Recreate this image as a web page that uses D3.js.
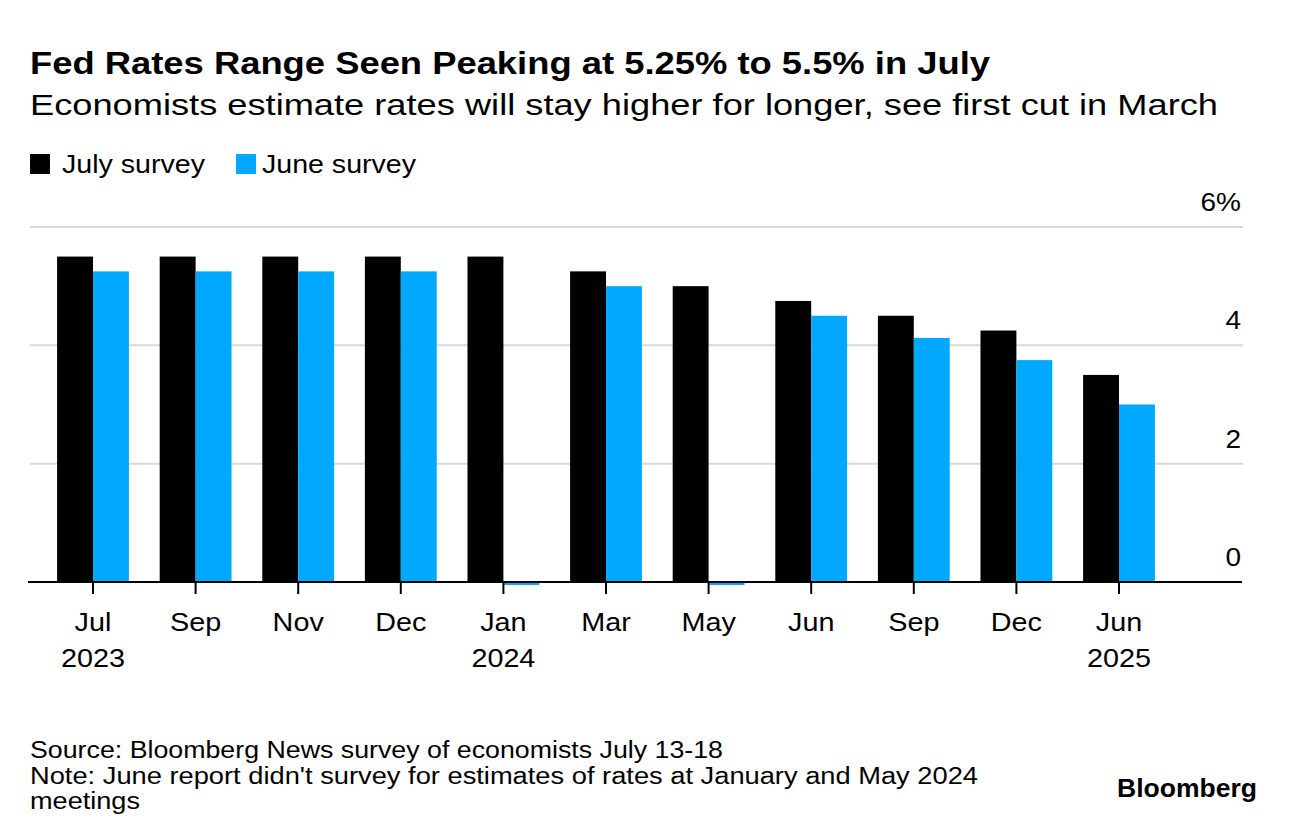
<!DOCTYPE html>
<html>
<head>
<meta charset="utf-8">
<script src="https://cdn.jsdelivr.net/npm/d3@7"></script>
<style>
  body { margin: 0; background: #fff; }
  svg { display: block; font-family: "Liberation Sans", Arial, sans-serif; }
</style>
</head>
<body>
<svg id="chart" width="1296" height="832"></svg>
<script>
const months = ["Jul", "Sep", "Nov", "Dec", "Jan", "Mar", "May", "Jun", "Sep", "Dec", "Jun"];
const years = ["2023", "", "", "", "2024", "", "", "", "", "", "2025"];
const julySurvey = [5.5, 5.5, 5.5, 5.5, 5.5, 5.25, 5.0, 4.75, 4.5, 4.25, 3.5];
const juneSurvey = [5.25, 5.25, 5.25, 5.25, 0, 5.0, 0, 4.5, 4.125, 3.75, 3.0];
const yTicks = [0, 2, 4, 6];
const seriesNames = ["July survey", "June survey"];
const colors = ["#000000", "#00a9ff"];

const svg = d3.select("#chart");
const idx = d3.range(months.length);

// widen text horizontally to mimic the wider reference typeface
function stretch(sel, k) {
  sel.each(function() {
    const len = this.getComputedTextLength();
    d3.select(this).attr("textLength", len * k).attr("lengthAdjust", "spacingAndGlyphs");
  });
  return sel;
}
function fitWidth(sel, w) {
  sel.attr("textLength", w).attr("lengthAdjust", "spacingAndGlyphs");
  return sel;
}

const x = d3.scaleBand().domain(idx).range([41.7, 1170.3]).paddingInner(0.3).paddingOuter(0.15);
const xSub = d3.scaleBand().domain([0, 1]).range([0, x.bandwidth()]);
const y = d3.scaleLinear().domain([0, 6]).range([582, 227]);

// Title
fitWidth(svg.append("text").attr("x", 30).attr("y", 74)
  .attr("font-size", 31).attr("font-weight", "bold").attr("fill", "#000")
  .text("Fed Rates Range Seen Peaking at 5.25% to 5.5% in July"), 960);
fitWidth(svg.append("text").attr("x", 30).attr("y", 115)
  .attr("font-size", 29).attr("fill", "#000")
  .text("Economists estimate rates will stay higher for longer, see first cut in March"), 1188);

// Legend
const legendX = [30, 236];
const legendW = [143, 154];
seriesNames.forEach((n, i) => {
  const g = svg.append("g").attr("transform", `translate(${legendX[i]},0)`);
  g.append("rect").attr("x", 0).attr("y", 154).attr("width", 20).attr("height", 20).attr("fill", colors[i]);
  fitWidth(g.append("text").attr("x", 32 - (i ? 6 : 0)).attr("y", 173).attr("font-size", 25).attr("fill", "#000").text(n), legendW[i]);
});

// Gridlines + y labels
const grid = svg.append("g");
yTicks.forEach(t => {
  if (t !== 0) {
    grid.append("line").attr("x1", 30).attr("x2", 1243)
      .attr("y1", y(t)).attr("y2", y(t))
      .attr("stroke", "#d9d9d9").attr("stroke-width", 2);
  }
  stretch(grid.append("text").attr("x", 1241).attr("y", y(t) - 16)
    .attr("text-anchor", "end").attr("font-size", 25).attr("fill", "#000")
    .text(t === 6 ? "6%" : t), 1.12);
});

// Bars (non-zero)
const groups = svg.append("g").selectAll("g").data(idx).join("g")
  .attr("transform", i => `translate(${x(i)},0)`);
groups.each(function(i) {
  const g = d3.select(this);
  [julySurvey[i], juneSurvey[i]].forEach((v, s) => {
    if (v > 0) {
      g.append("rect").attr("x", xSub(s)).attr("width", xSub.bandwidth())
        .attr("y", y(v)).attr("height", y(0) - y(v)).attr("fill", colors[s]);
    }
  });
});

// X axis
svg.append("line").attr("x1", 28).attr("x2", 1242).attr("y1", y(0)).attr("y2", y(0))
  .attr("stroke", "#000").attr("stroke-width", 2);

// Zero-value bars drawn as a thin strip just below the baseline
const zeroG = svg.append("g");
idx.forEach(i => {
  [julySurvey[i], juneSurvey[i]].forEach((v, s) => {
    if (v === 0) {
      zeroG.append("rect").attr("x", x(i) + xSub(s)).attr("width", xSub.bandwidth())
        .attr("y", y(0) + 1).attr("height", 2).attr("fill", colors[s]);
    }
  });
});

const xa = svg.append("g");
idx.forEach(i => {
  const cx = x(i) + x.bandwidth() / 2;
  xa.append("line").attr("x1", cx).attr("x2", cx).attr("y1", y(0)).attr("y2", y(0) + 12)
    .attr("stroke", "#000").attr("stroke-width", 2);
  stretch(xa.append("text").attr("x", cx).attr("y", 631).attr("text-anchor", "middle")
    .attr("font-size", 25).attr("fill", "#000").text(months[i]), 1.15);
  if (years[i]) {
    stretch(xa.append("text").attr("x", cx).attr("y", 667).attr("text-anchor", "middle")
      .attr("font-size", 25).attr("fill", "#000").text(years[i]), 1.15);
  }
});

// Footer
const foot = ["Source: Bloomberg News survey of economists July 13-18",
  "Note: June report didn't survey for estimates of rates at January and May 2024",
  "meetings"];
const footW = [693, 948, 110];
foot.forEach((t, i) => {
  fitWidth(svg.append("text").attr("x", 30).attr("y", 758 + i * 25.5)
    .attr("font-size", 23).attr("fill", "#000").text(t), footW[i]);
});
fitWidth(svg.append("text").attr("x", 1117).attr("y", 797)
  .attr("font-size", 25).attr("font-weight", "bold").attr("fill", "#000")
  .text("Bloomberg"), 140);
</script>
</body>
</html>
